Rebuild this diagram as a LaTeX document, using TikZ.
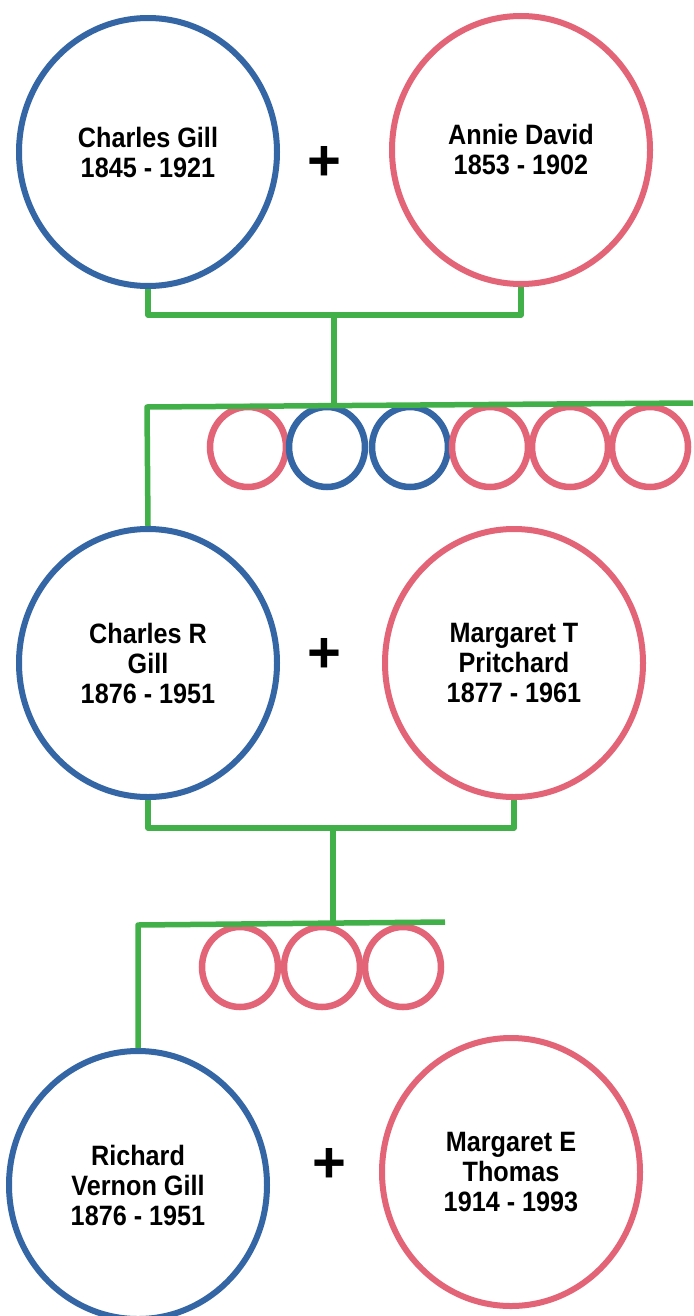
\documentclass[tikz,border=0pt]{standalone}
\usepackage{fontspec}
\setmainfont{Liberation Sans}
\newfontfamily\labfont{Liberation Sans}[FakeStretch=0.9]
\usetikzlibrary{shapes.geometric}
\definecolor{mblue}{RGB}{52,101,164}
\definecolor{fpink}{RGB}{226,100,118}
\definecolor{lgreen}{RGB}{66,176,72}
\begin{document}
\begin{tikzpicture}[x=1pt,y=-1pt,
  person/.style={ellipse, draw, line width=6pt, minimum width=258pt, minimum height=268pt, inner sep=0pt, align=center, font=\labfont\bfseries\fontsize{28}{30}\selectfont},
  male/.style={person, draw=mblue},
  female/.style={person, draw=fpink},
  kid/.style={ellipse, draw, line width=6.5pt, minimum width=76pt, minimum height=80pt, inner sep=0pt},
  boy/.style={kid, draw=mblue},
  girl/.style={kid, draw=fpink},
  link/.style={draw=lgreen, line width=5.5pt, line join=round},
  plus/.style={font=\bfseries\fontsize{58}{58}\selectfont, inner sep=0pt}]
\useasboundingbox[fill=white] (0,0) rectangle (693,1316);

% generation 1
\node[male]   (cg) at (148,152) {Charles Gill\\1845 - 1921};
\node[female] (ad) at (521,150) {Annie David\\1853 - 1902};
\node[plus]   (p1) at (324,163) {+};

\coordinate (j1)  at (334,315);
\coordinate (b1m) at (334,405);
\coordinate (b1l) at (147,407);
\coordinate (b1r) at (693,403);

% children row 1
\node[girl] (k11) at (248,447) {};
\node[boy]  (k12) at (327,447) {};
\node[boy]  (k13) at (410,447) {};
\node[girl] (k14) at (490,447) {};
\node[girl] (k15) at (570,447) {};
\node[girl] (k16) at (650,447) {};

% generation 2
\node[male]   (cr) at (148,663) {Charles R\\Gill\\1876 - 1951};
\node[female] (mt) at (514,663) {Margaret T\\Pritchard\\1877 - 1961};
\node[plus]   (p2) at (324,655) {+};

\coordinate (j2)  at (333,828);
\coordinate (b2m) at (333,923);
\coordinate (b2l) at (138,925);
\coordinate (b2r) at (445,922);

% children row 2
\node[girl] (k21) at (240,967) {};
\node[girl] (k22) at (322,967) {};
\node[girl] (k23) at (403,967) {};

% generation 3
\node[male]   (rv) at (138,1185) {Richard\\Vernon Gill\\1876 - 1951};
\node[female] (me) at (511,1172) {Margaret E\\Thomas\\1914 - 1993};
\node[plus]   (p3) at (329,1165) {+};

% connectors
\draw[link] (cg.south) |- (j1) -| (ad.south);
\draw[link] (j1) -- (b1m);
\draw[link] (b1r) -- (b1l) -- (cr.north);
\draw[link] (cr.south) |- (j2) -| (mt.south);
\draw[link] (j2) -- (b2m);
\draw[link] (b2r) -- (b2l) -- (rv.north);
\end{tikzpicture}
\end{document}
